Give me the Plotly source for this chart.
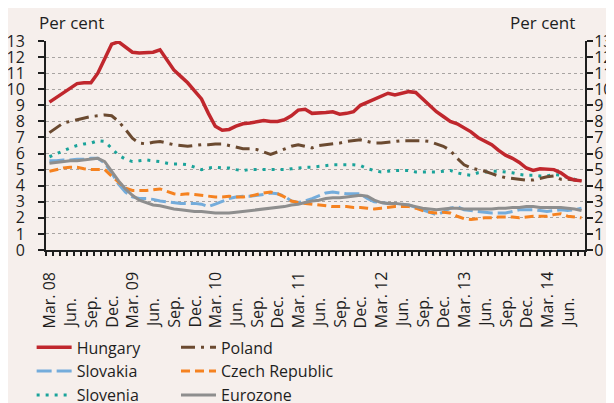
import plotly.graph_objects as go

# Monthly observations, Mar. 2008 to Aug. 2014 (per cent)
months = ["Mar.", "Apr.", "May", "Jun.", "Jul.", "Aug.", "Sep.", "Oct.", "Nov.", "Dec.", "Jan.", "Feb."]
start_year = 8
n_obs = 78

hungary = [9.2, 9.5, 9.8, 10.1, 10.35, 10.4, 10.4, 11.0, 11.9, 12.8, 12.95, 12.6, 12.3, 12.25, 12.3, 12.3,
           12.45, 11.8, 11.2, 10.8, 10.4, 9.9, 9.4, 8.5, 7.7, 7.45, 7.5, 7.7, 7.85, 7.9, 7.95, 8.05,
           8.0, 8.0, 8.1, 8.35, 8.7, 8.75, 8.5, 8.5, 8.55, 8.6, 8.45, 8.5, 8.6, 9.0, 9.2, 9.35,
           9.6, 9.75, 9.65, 9.75, 9.85, 9.8, 9.4, 9.0, 8.6, 8.3, 8.0, 7.85, 7.6, 7.35, 7.0, 6.8,
           6.55, 6.2, 5.9, 5.7, 5.45, 5.1, 4.95, 5.05, 5.05, 5.0, 4.8, 4.5, 4.35, 4.3]
poland = [7.3, 7.6, 7.9, 8.0, 8.1, 8.2, 8.3, 8.35, 8.4, 8.35, 8.0, 7.5, 6.95, 6.65, 6.6, 6.7,
          6.75, 6.65, 6.55, 6.5, 6.45, 6.5, 6.55, 6.55, 6.6, 6.6, 6.5, 6.4, 6.3, 6.3, 6.25, 6.1,
          5.95, 6.1, 6.3, 6.45, 6.55, 6.45, 6.35, 6.5, 6.55, 6.6, 6.65, 6.75, 6.8, 6.85, 6.75, 6.65,
          6.65, 6.7, 6.75, 6.8, 6.8, 6.8, 6.8, 6.75, 6.6, 6.45, 6.2, 5.7, 5.3, 5.1, 5.0, 4.9,
          4.75, 4.6, 4.5, 4.45, 4.4, 4.35, 4.35, 4.45, 4.55, 4.6, 4.4, 4.4, 4.35, 4.3]
slovakia = [5.55, 5.55, 5.6, 5.6, 5.65, 5.65, 5.7, 5.7, 5.4, 4.8, 4.1, 3.6, 3.3, 3.2, 3.2, 3.15,
            3.05, 3.0, 2.95, 2.9, 2.9, 2.9, 2.85, 2.7, 2.85, 3.05, 3.2, 3.3, 3.35, 3.35, 3.4, 3.45,
            3.55, 3.5, 3.35, 3.05, 2.95, 3.05, 3.2, 3.4, 3.55, 3.6, 3.55, 3.5, 3.5, 3.5, 3.2, 3.0,
            2.95, 2.9, 2.9, 2.85, 2.8, 2.65, 2.5, 2.35, 2.2, 2.35, 2.6, 2.7, 2.5, 2.45, 2.4, 2.35,
            2.3, 2.3, 2.3, 2.4, 2.5, 2.5, 2.5, 2.45, 2.4, 2.45, 2.5, 2.45, 2.5, 2.6]
czech = [4.9, 5.0, 5.1, 5.15, 5.15, 5.05, 5.0, 5.0, 5.0, 4.6, 4.2, 3.85, 3.7, 3.7, 3.7, 3.75,
         3.8, 3.65, 3.5, 3.45, 3.5, 3.45, 3.4, 3.35, 3.3, 3.3, 3.35, 3.3, 3.3, 3.35, 3.45, 3.55,
         3.6, 3.5, 3.3, 3.05, 2.95, 2.9, 2.85, 2.8, 2.75, 2.7, 2.7, 2.7, 2.65, 2.65, 2.6, 2.55,
         2.6, 2.65, 2.7, 2.7, 2.7, 2.6, 2.45, 2.35, 2.3, 2.35, 2.3, 2.1, 1.95, 1.9, 1.95, 2.0,
         2.0, 2.05, 2.05, 2.05, 2.0, 2.05, 2.1, 2.1, 2.1, 2.2, 2.25, 2.1, 2.05, 2.0]
slovenia = [5.8, 6.0, 6.2, 6.35, 6.5, 6.6, 6.65, 6.8, 6.75, 6.35, 5.9, 5.65, 5.5, 5.55, 5.6, 5.55,
            5.5, 5.4, 5.35, 5.35, 5.3, 5.15, 5.0, 5.1, 5.15, 5.1, 5.1, 5.0, 4.95, 5.0, 5.0, 5.0,
            5.0, 5.0, 5.0, 5.05, 5.1, 5.15, 5.15, 5.2, 5.25, 5.3, 5.3, 5.3, 5.3, 5.25, 5.05, 4.95,
            4.85, 4.9, 4.95, 4.95, 4.95, 4.85, 4.85, 4.85, 4.85, 4.9, 4.95, 4.8, 4.7, 4.65, 4.8, 4.85,
            4.9, 4.9, 4.85, 4.8, 4.7, 4.65, 4.65, 4.6, 4.6, 4.7, 4.65, 4.5, 4.4, 4.35]
eurozone = [5.4, 5.45, 5.5, 5.55, 5.55, 5.6, 5.65, 5.7, 5.5, 4.9, 4.3, 3.8, 3.4, 3.1, 2.95, 2.8,
            2.75, 2.65, 2.55, 2.5, 2.45, 2.4, 2.4, 2.35, 2.3, 2.3, 2.3, 2.35, 2.4, 2.45, 2.5, 2.55,
            2.6, 2.65, 2.7, 2.8, 2.85, 2.95, 3.05, 3.1, 3.2, 3.25, 3.25, 3.3, 3.35, 3.4, 3.35, 3.1,
            2.95, 2.9, 2.9, 2.85, 2.8, 2.7, 2.6, 2.55, 2.5, 2.55, 2.6, 2.6, 2.55, 2.55, 2.55, 2.55,
            2.55, 2.6, 2.6, 2.65, 2.65, 2.7, 2.7, 2.65, 2.65, 2.65, 2.65, 2.6, 2.55, 2.45]

x = list(range(n_obs))
quarter_idx = x[::3]
quarter_txt = []
for i in quarter_idx:
    m = months[i % 12]
    yr = start_year + (i + 2) // 12
    quarter_txt.append(f"{m} {yr:02d}" if m == "Mar." else m)

BG = "#F6EFEC"
INK = "#1E1E1E"
FONT = "Open Sans"

# (name, values, colour, dash, width, legend, legend rank)
series = [
    ("Slovakia", slovakia, "#74ACDB", "15px,5px", 3, "legend", 2),
    ("Czech Republic", czech, "#F58220", "9px,5px", 3, "legend2", 2),
    ("Slovenia", slovenia, "#1AA39A", "3px,6px", 3, "legend", 3),
    ("Poland", poland, "#6B4A30", "14px,6px,3px,6px", 3, "legend2", 1),
    ("Eurozone", eurozone, "#8E8E8E", "solid", 3, "legend2", 3),
    ("Hungary", hungary, "#C0272D", "solid", 3.5, "legend", 1),
]

fig = go.Figure()
for name, vals, col, dash, w, leg, rank in series:
    fig.add_trace(go.Scatter(
        x=x, y=vals, mode="lines", name=name, legend=leg, legendrank=rank,
        line=dict(color=col, width=w, dash=dash),
    ))
# invisible copy so the right-hand axis gets drawn with its labels
fig.add_trace(go.Scatter(x=x, y=hungary, yaxis="y2", mode="lines", opacity=0,
                         line=dict(width=0), showlegend=False, hoverinfo="skip"))

axis_font = dict(family=FONT, size=16, color=INK)
legend_style = dict(
    xref="container", yref="container", y=0.2, xanchor="left", yanchor="top",
    bgcolor="rgba(0,0,0,0)", font=dict(family=FONT, size=16, color=INK), itemwidth=35,
    tracegroupgap=0,
)
y_common = dict(
    range=[0, 13], dtick=1, tickfont=axis_font, ticks="outside", ticklen=6, tickwidth=1.5,
    tickcolor=INK, showline=True, linecolor=INK, linewidth=2, zeroline=False,
)

annotations = [
    dict(text="Per cent", xref="paper", yref="paper", x=0, y=1, xanchor="left", yanchor="middle",
         xshift=-9, yshift=19, showarrow=False, font=dict(family=FONT, size=17, color=INK)),
    dict(text="Per cent", xref="paper", yref="paper", x=1, y=1, xanchor="right", yanchor="middle",
         xshift=-8, yshift=19, showarrow=False, font=dict(family=FONT, size=17, color=INK)),
]
# quarterly month labels, rotated and bottom-aligned like the original
for i, lab in zip(quarter_idx, quarter_txt):
    annotations.append(dict(
        text=lab, x=i, xref="x", y=0, yref="paper", xanchor="center", yanchor="bottom",
        yshift=-80, textangle=-90, showarrow=False, font=dict(family=FONT, size=16, color=INK),
    ))

fig.update_layout(
    width=614, height=403,
    margin=dict(l=38, r=37, t=33, b=161, autoexpand=False),
    paper_bgcolor=BG, plot_bgcolor=BG,
    font=dict(family=FONT, size=15, color=INK),
    xaxis=dict(
        range=[-0.5, n_obs - 0.5], showticklabels=False, ticks="",
        showgrid=False, zeroline=False, showline=True, linecolor=INK, linewidth=2,
        minor=dict(tickmode="array", tickvals=[i - 0.5 for i in range(n_obs + 1)],
                   ticks="outside", ticklen=4, tickwidth=1.5, tickcolor=INK, showgrid=False),
    ),
    yaxis=dict(showgrid=True, gridcolor="#A8A4A2", griddash="dot", gridwidth=1.3,
               ticklabelstandoff=10, **y_common),
    yaxis2=dict(overlaying="y", side="right", anchor="x", showgrid=False,
                ticklabelstandoff=-2, **y_common),
    legend=dict(x=0.0385, **legend_style),
    legend2=dict(x=0.2736, **legend_style),
    annotations=annotations,
    showlegend=True,
)

fig.write_html("out.html")
